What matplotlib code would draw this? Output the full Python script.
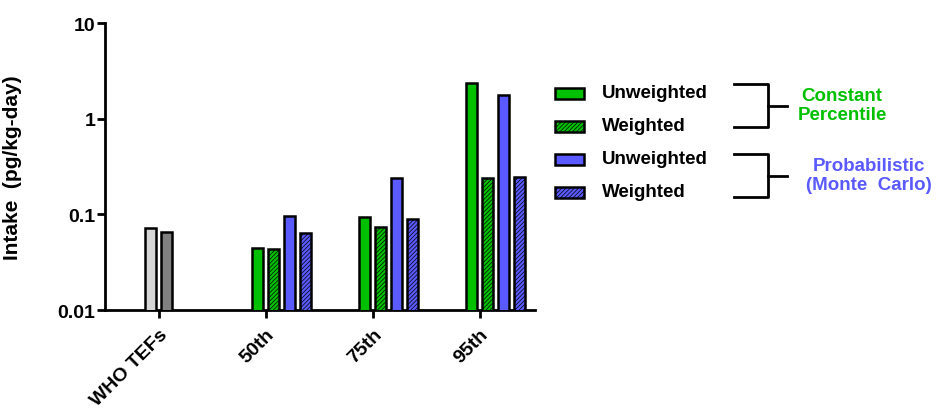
import numpy as np
import matplotlib.pyplot as plt
from matplotlib.patches import Rectangle

plt.rcParams['font.family'] = ['Liberation Sans', 'DejaVu Sans']
plt.rcParams['font.weight'] = 'bold'
plt.rcParams['hatch.linewidth'] = 0.5

categories = ['WHO TEFs', '50th', '75th', '95th']
who_values = [0.072, 0.065]
cp_unweighted = [0.045, 0.093, 2.36]
cp_weighted = [0.0434, 0.074, 0.241]
mc_unweighted = [0.097, 0.241, 1.78]
mc_weighted = [0.064, 0.089, 0.248]

green = '#00C000'
blue = '#5A5AFF'
hatch = '////////'

fig = plt.figure(figsize=(9.43, 4.14), dpi=100)
ax = fig.add_axes([105 / 943, 1 - 311 / 414, 430 / 943, 287 / 414])

w = 0.1
offs = [-0.08, 0.07, 0.22, 0.37]
x = np.arange(len(categories))
bar_kw = dict(width=w, edgecolor='black', linewidth=1.8, zorder=3)

ax.bar(x[0] + offs[0], who_values[0], color='#D6D6D6', **bar_kw)
ax.bar(x[0] + offs[1], who_values[1], color='#808080', **bar_kw)
ax.bar(x[1:] + offs[0], cp_unweighted, color=green, **bar_kw)
ax.bar(x[1:] + offs[1], cp_weighted, color=green, hatch=hatch, **bar_kw)
ax.bar(x[1:] + offs[2], mc_unweighted, color=blue, **bar_kw)
ax.bar(x[1:] + offs[3], mc_weighted, color=blue, hatch=hatch, **bar_kw)

ax.set_yscale('log')
ax.set_ylim(0.01, 10)
ax.set_xlim(-0.505, 3.514)
ax.set_yticks([0.01, 0.1, 1, 10])
ax.set_yticklabels(['0.01', '0.1', '1', '10'])
ax.minorticks_off()
ax.set_xticks(x)
ax.set_xticklabels(categories, rotation=45, ha='right', rotation_mode='anchor')
ax.tick_params(axis='both', direction='out', width=2, length=6, labelsize=14)
ax.tick_params(axis='y', pad=1)
ax.tick_params(axis='x', pad=5)
for s in ['top', 'right']:
    ax.spines[s].set_visible(False)
for s in ['left', 'bottom']:
    ax.spines[s].set_linewidth(2)
ax.set_ylabel('Intake  (pg/kg-day)', fontsize=15, fontweight='bold')
ax.yaxis.set_label_coords(-(105 - 22) / 430, 0.5)

# legend drawn by hand in pixel coordinates
lg = fig.add_axes([0, 0, 1, 1], facecolor='none')
lg.set_xlim(0, 943)
lg.set_ylim(414, 0)
lg.axis('off')

rows = [(94, green, None, 'Unweighted'), (127, green, hatch, 'Weighted'),
        (160, blue, None, 'Unweighted'), (193, blue, hatch, 'Weighted')]
for y, c, h, t in rows:
    lg.add_patch(Rectangle((555, y - 5.5), 29, 11, facecolor=c, edgecolor='black',
                           linewidth=1.8, hatch=h))
    lg.text(602, y, t, fontsize=13.5, fontweight='bold', va='center', ha='left')

for top, bot in [(85, 128), (155, 198)]:
    mid = (top + bot) / 2
    lg.plot([734, 768, 768, 734], [top, top, bot, bot], color='black', lw=2)
    lg.plot([768, 787], [mid, mid], color='black', lw=2)

lg.text(842, 106, 'Constant\nPercentile', color=green, fontsize=13.5, fontweight='bold',
        ha='center', va='center', linespacing=1.15)
lg.text(869, 176, 'Probabilistic\n(Monte  Carlo)', color=blue, fontsize=13.5, fontweight='bold',
        ha='center', va='center', linespacing=1.15)

fig.savefig('out.png', dpi=100)
